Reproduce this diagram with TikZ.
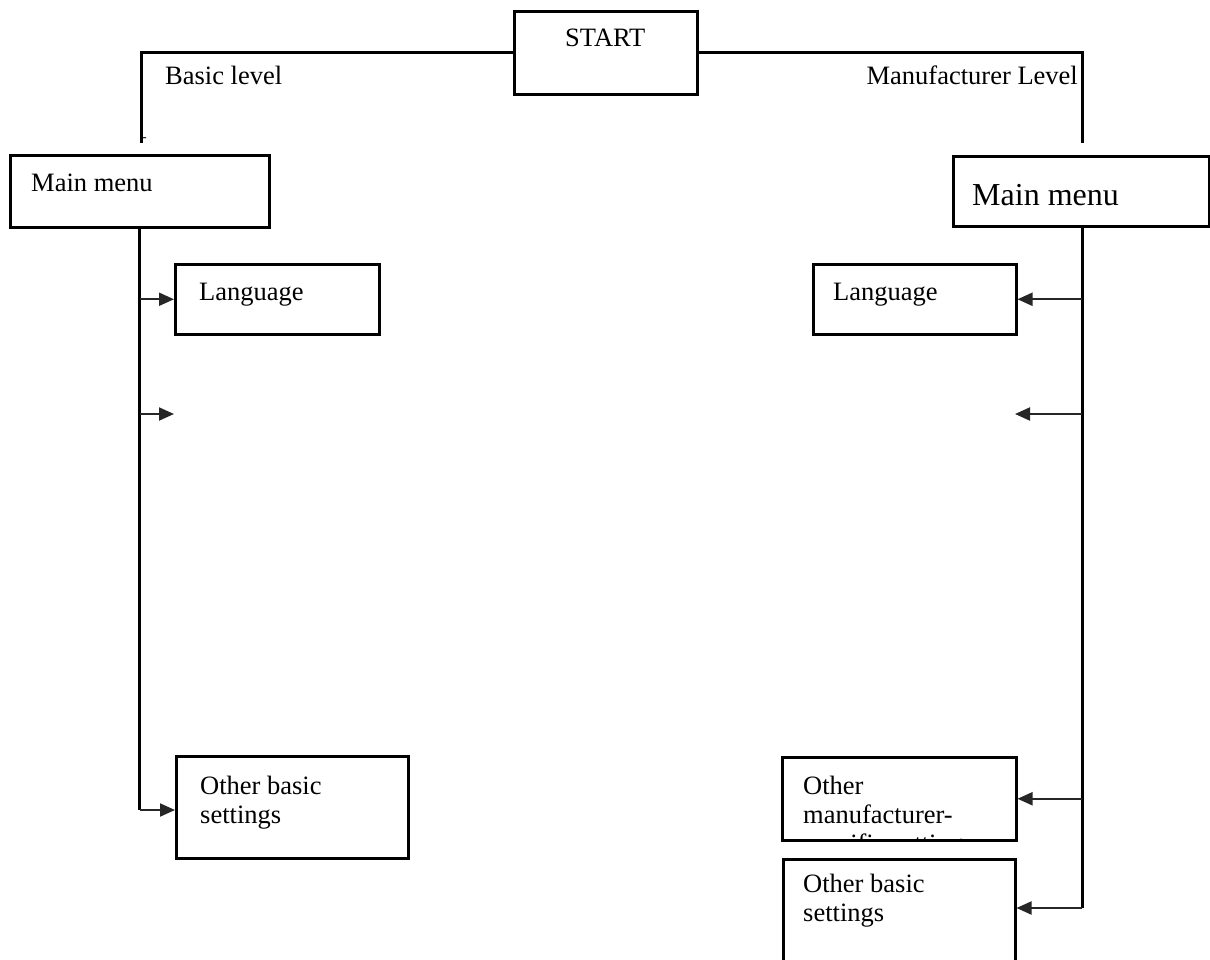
\documentclass[tikz,border=0pt]{standalone}
\usepackage{fontspec}
\setmainfont{Liberation Serif}
\usetikzlibrary{arrows.meta}

\begin{document}
\begin{tikzpicture}[x=1pt, y=-1pt,
		box/.style={draw, line width=2.5pt, anchor=north west, inner sep=0pt},
		txt/.style={anchor=base west, inner sep=0pt, align=left, font=\fontsize{26.5}{29}\selectfont},
		conn/.style={line width=3pt},
		arr/.style={line width=2pt, black!85, -{Triangle[length=15pt,width=13pt]}}]
		\useasboundingbox (0,0) rectangle (1210,959);
		% boxes
		\node[box, minimum width=183pt, minimum height=83pt] (start) at (513,10){};
		\node[box, minimum width=259pt, minimum height=72pt] (mainL) at (9,154){};
		\node[box, minimum width=256pt, minimum height=70pt] (mainR) at (952,155){};
		\node[box, minimum width=204pt, minimum height=70pt] (langL) at (174,263){};
		\node[box, minimum width=203pt, minimum height=70pt] (langR) at (812,263){};
		\node[box, minimum width=232pt, minimum height=102pt] (otherL) at (175,755){};
		\node[box, minimum width=234pt, minimum height=83pt] (otherM) at (781,756){};
		\node[box, minimum width=232pt, minimum height=150pt] (otherR) at (782,858){};
		% texts (base = last line)
		\node[txt] (tstart) at (565,46){START};
		\node[txt] (tbasic) at (165,84){Basic level};
		\node[txt, anchor=base east] (tmanu) at (1078,84){Manufacturer Level};
		\node[txt, font=\fontsize{14}{14}\selectfont] (tick) at (142,141){-};
		\node[txt] (tmainL) at (31,191){Main menu};
		\node[txt, font=\fontsize{32}{36}\selectfont] (tmainR) at (972,205){Main menu};
		\node[txt] (tlangL) at (199,300){Language};
		\node[txt] (tlangR) at (833,300){Language};
		\node[txt] (totherL) at (200,823){Other basic\\settings};
		\node[txt] (totherR) at (803,921){Other basic\\settings};
		\begin{scope}
			\clip (otherM.north west) rectangle (otherM.south east);
			\node[txt] (totherM) at (803,852){Other\\manufacturer-\\specific settings};
		\end{scope}
		% connectors from START
		\coordinate (topL) at (141,143);
		\coordinate (topR) at (1082,143);
		\draw[conn] (start.west) -| (topL);
		\draw[conn] (start.east) -| (topR);
		% left branch
		\coordinate (botL) at (mainL.south |- 0,810);
		\coordinate (emptyL) at (174,414);
		\draw[conn] (mainL.south) -- (botL);
		\draw[arr] (langL.west -| botL) -- (langL.west);
		\draw[arr] (emptyL -| botL) -- (emptyL);
		\draw[arr] (botL) -- (botL -| otherL.west);
		% right branch
		\coordinate (botR) at (1082,908);
		\coordinate (emptyR) at (1015,414);
		\draw[conn] (mainR.south -| botR) -- (botR);
		\draw[arr] (langR.east -| botR) -- (langR.east);
		\draw[arr] (emptyR -| botR) -- (emptyR);
		\draw[arr] (otherM.east -| botR) -- (otherM.east);
		\draw[arr] (botR) -- (botR -| otherR.east);
		\end{tikzpicture}
\end{document}
